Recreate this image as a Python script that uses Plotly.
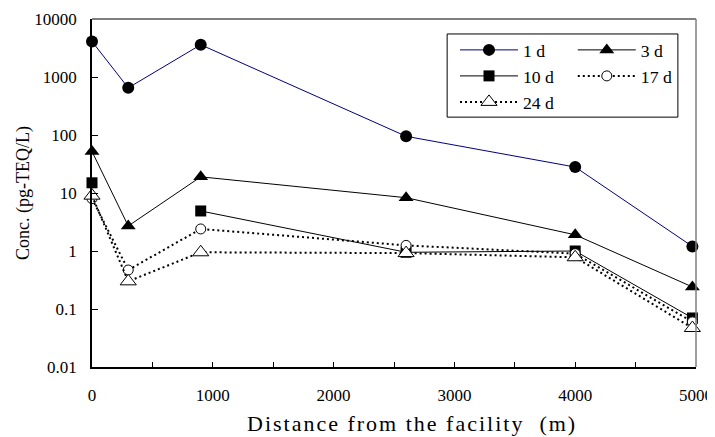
import plotly.graph_objects as go

# ---- data ----
distance = [0, 300, 900, 2600, 4000, 4970]
conc_1d = [4100, 650, 3600, 95, 28, 1.2]
conc_3d = [52, 2.7, 19, 8.3, 1.9, 0.24]
conc_10d = [15, None, 4.9, 0.95, 1.0, 0.07]
conc_17d = [8.0, 0.47, 2.4, 1.25, 0.9, 0.06]
conc_24d = [9.0, 0.30, 0.95, 0.92, 0.78, 0.047]

y_tickvals = [0.01, 0.1, 1, 10, 100, 1000, 10000]
y_ticktext = ["0.01", "0.1", "1", "10", "100", "1000", "10000"]
x_tickvals = [0, 1000, 2000, 3000, 4000, 5000]

FONT = "Liberation Serif"
DOT = "2px,3px"

series = [
    ("1 d", conc_1d, dict(symbol="circle", size=12, color="black"),
     dict(color="#000080", width=1), "legend"),
    ("3 d", conc_3d, dict(symbol="triangle-up", size=13, color="black"),
     dict(color="black", width=1), "legend2"),
    ("10 d", conc_10d, dict(symbol="square", size=11, color="black"),
     dict(color="black", width=1), "legend"),
    ("17 d", conc_17d, dict(symbol="circle", size=10, color="white",
                            line=dict(color="black", width=1)),
     dict(color="black", width=2, dash=DOT), "legend2"),
    ("24 d", conc_24d, dict(symbol="triangle-up", size=14, color="white",
                            line=dict(color="black", width=1)),
     dict(color="black", width=2, dash=DOT), "legend"),
]

fig = go.Figure()
for name, vals, marker, line, leg in series:
    fig.add_trace(go.Scatter(
        x=distance, y=vals, name=name, mode="lines+markers",
        marker=marker, line=line, legend=leg, cliponaxis=False,
        connectgaps=False,
    ))

# legend frame + plot border (top/right)
fig.add_shape(type="rect", xref="paper", yref="paper",
              x0=0.588, x1=0.970, y0=0.718, y1=0.957,
              line=dict(color="black", width=1), fillcolor="white", layer="above")
fig.add_shape(type="line", xref="paper", yref="paper", x0=0, x1=1, y0=1, y1=1,
              line=dict(color="#555555", width=1.5))
fig.add_shape(type="line", xref="paper", yref="paper", x0=1, x1=1, y0=0, y1=1,
              line=dict(color="#808080", width=1.5))

# x-axis title as an annotation (positioned like the reference)
fig.add_annotation(
    text='<span style="letter-spacing:2px">Distance from the facility  (m)</span>',
    xref="paper", yref="paper", x=0.53, y=0, yshift=-56,
    xanchor="center", yanchor="middle", showarrow=False,
    font=dict(family=FONT, size=22, color="black"),
)

legend_common = dict(
    orientation="v", xanchor="left", yanchor="top",
    bgcolor="rgba(0,0,0,0)", borderwidth=0,
    font=dict(family=FONT, size=17.7, color="black"),
    itemwidth=58, tracegroupgap=0,
)

# the page body has an 8px margin, so the figure is 8px smaller and margins are shifted
fig.update_layout(
    width=707, height=429,
    margin=dict(l=84, r=19, t=11, b=70, autoexpand=False),
    paper_bgcolor="white", plot_bgcolor="white",
    font=dict(family=FONT, size=17, color="black"),
    showlegend=True,
    legend=dict(x=0.601, y=0.963, **legend_common),
    legend2=dict(x=0.796, y=0.963, **legend_common),
    xaxis=dict(
        range=[0, 5000], tickvals=x_tickvals, automargin=False,
        ticks="inside", ticklen=5, tickwidth=1, tickcolor="black",
        minor=dict(dtick=500, tick0=0, ticks="inside", ticklen=5,
                   tickcolor="black", showgrid=False),
        showline=True, linecolor="black", linewidth=1.5,
        showgrid=False, zeroline=False,
        tickfont=dict(family=FONT, size=17, color="black"),
        ticklabelstandoff=12,
    ),
    yaxis=dict(
        type="log", range=[-2, 4], tickvals=y_tickvals, ticktext=y_ticktext,
        automargin=False,
        ticks="inside", ticklen=6, tickwidth=1, tickcolor="black",
        showline=True, linecolor="black", linewidth=1.5,
        showgrid=False, zeroline=False,
        tickfont=dict(family=FONT, size=17, color="black"),
        ticklabelstandoff=10,
        title=dict(text="Conc. (pg-TEQ/L)",
                   font=dict(family=FONT, size=18, color="black"), standoff=0),
    ),
)

fig.write_html("out.html")
